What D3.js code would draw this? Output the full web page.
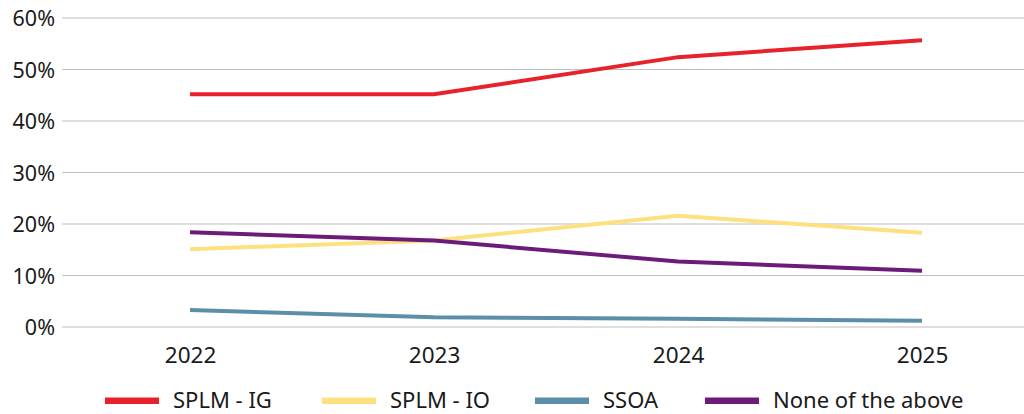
<!DOCTYPE html>
<html><head><meta charset="utf-8">
<script src="https://cdn.jsdelivr.net/npm/d3@7"></script>
<style>body{margin:0;background:#fff}svg{display:block}</style>
</head><body><svg id="c" width="1024" height="414"></svg>
<script>
const years = ["2022","2023","2024","2025"];
const seriesNames = ["SPLM - IG","SPLM - IO","SSOA","None of the above"];
const splmIG = [45.2, 45.2, 52.4, 55.7];
const splmIO = [15.1, 16.8, 21.6, 18.3];
const ssoa = [3.3, 1.9, 1.6, 1.2];
const none = [18.4, 16.8, 12.7, 10.9];
const yTicks = [0,10,20,30,40,50,60];
const colors = ["#e8222b","#fde181","#5b8fa8","#6c1b7b"];
const allSeries = [splmIG, splmIO, ssoa, none];
const font = "'Noto Sans', 'Open Sans', sans-serif";

const svg = d3.select("#c");
const x = d3.scalePoint().domain(years).range([190, 922]);
const y = d3.scaleLinear().domain([0,60]).range([327, 18]);

const grid = svg.append("g");
grid.selectAll("line").data(yTicks).join("line")
  .attr("x1", 62).attr("x2", 1024)
  .attr("y1", d => y(d)).attr("y2", d => y(d))
  .attr("stroke", "#bfbfbf").attr("stroke-width", 1.2);

const yAxis = d3.axisLeft(y).tickValues(yTicks).tickSize(0).tickPadding(0).tickFormat(d => d + "%");
svg.append("g").attr("transform","translate(55,0)").call(yAxis)
  .call(g => g.select(".domain").remove())
  .selectAll("text").attr("font-family", font).attr("font-size", 21.5).attr("fill","#1a1a1a").attr("dy","0.35em");

const xAxis = d3.axisBottom(x).tickSize(0).tickPadding(0);
svg.append("g").attr("transform","translate(0,355)").call(xAxis)
  .call(g => g.select(".domain").remove())
  .selectAll("text").attr("font-family", font).attr("font-size", 22.5).attr("fill","#1a1a1a").attr("dy","0.35em");

const line = d3.line().x((d,i) => x(years[i])).y(d => y(d));
svg.append("g").selectAll("path").data(allSeries).join("path")
  .attr("d", d => line(d)).attr("fill","none")
  .attr("stroke", (d,i) => colors[i]).attr("stroke-width", 4);

const legendX = [105, 322, 535, 705];
const lg = svg.append("g").selectAll("g").data(seriesNames).join("g")
  .attr("transform", (d,i) => `translate(${legendX[i]},400)`);
lg.append("rect").attr("x",0).attr("y",-2.5).attr("width",54).attr("height",6.5)
  .attr("fill", (d,i) => colors[i]);
lg.append("text").attr("x", 68).attr("dy","0.35em").text(d => d)
  .attr("font-family", font).attr("font-size", 22).attr("fill","#1a1a1a");
</script></body></html>
